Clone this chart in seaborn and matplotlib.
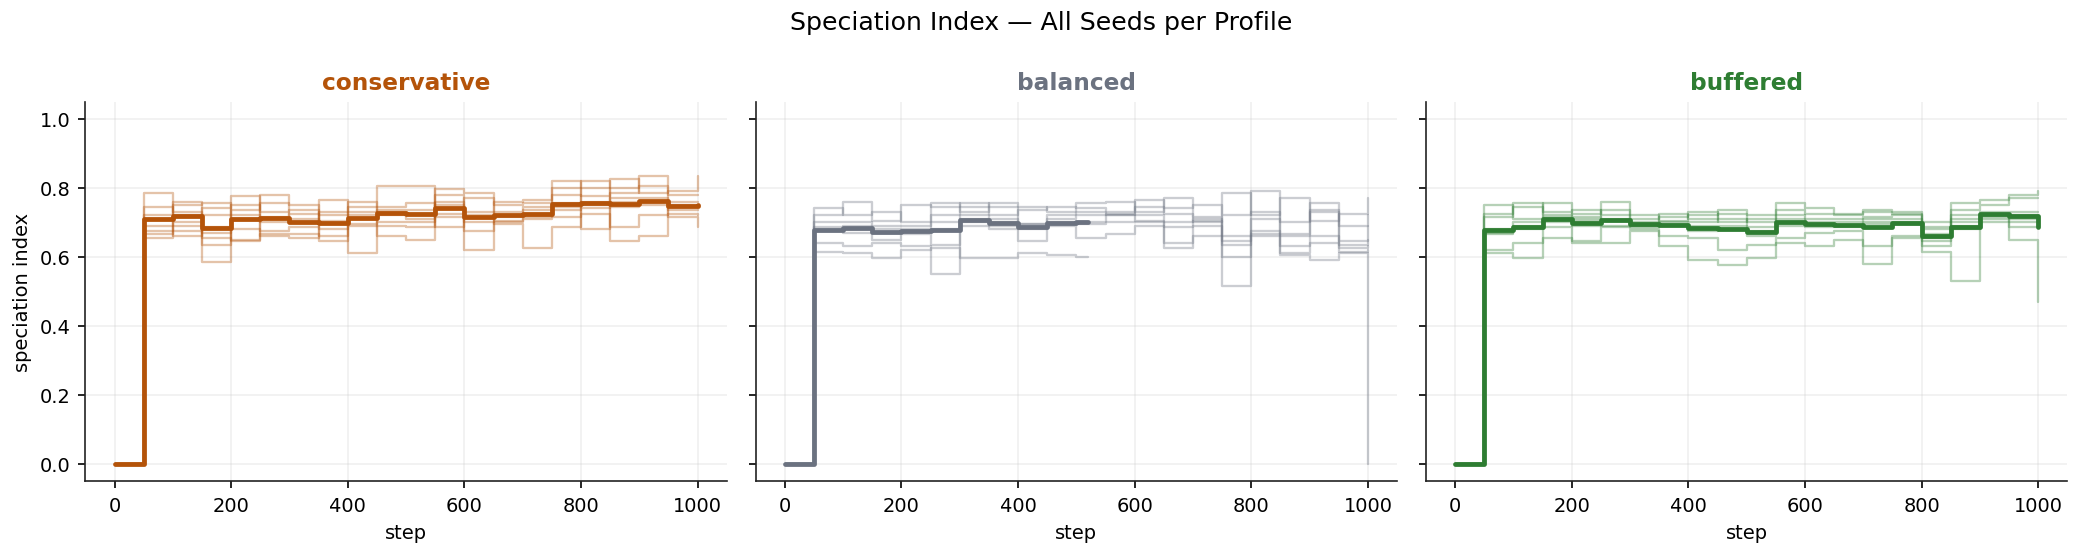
import numpy as np
import pandas as pd
import seaborn as sns
import matplotlib.pyplot as plt

# kroki: 0, 50, ..., 950 i ostatni punkt 1000
steps = list(range(0, 1001, 50))

profiles = ["conservative", "balanced", "buffered"]
colors = {"conservative": "#b45309", "balanced": "#6b7280", "buffered": "#2e7d32"}

# --- conservative (8 seedow) ---
cons_seeds = [
    [0, .785, .73, .585, .735, .78, .70, .765, .61, .805, .805, .715, .62, .76, .765, .80, .68, .825, .785, .79, .835],
    [0, .655, .75, .755, .65, .755, .75, .645, .76, .66, .65, .795, .785, .695, .625, .685, .82, .80, .835, .78, .78],
    [0, .745, .66, .74, .775, .66, .655, .73, .745, .745, .755, .685, .77, .75, .755, .82, .80, .645, .66, .76, .76],
    [0, .72, .76, .635, .75, .73, .735, .72, .73, .735, .735, .78, .73, .73, .745, .78, .775, .785, .805, .715, .685],
    [0, .71, .72, .72, .72, .715, .725, .705, .72, .73, .725, .76, .72, .72, .735, .755, .76, .77, .77, .75, .75],
    [0, .69, .70, .685, .71, .70, .71, .695, .71, .72, .71, .75, .715, .715, .725, .745, .75, .76, .76, .745, .745],
    [0, .675, .69, .67, .68, .675, .685, .68, .695, .70, .70, .74, .70, .705, .715, .735, .74, .745, .75, .735, .735],
    [0, .665, .675, .655, .645, .665, .665, .66, .69, .69, .685, .725, .675, .70, .71, .715, .725, .685, .72, .725, .72],
]
cons_mean = [0, .709, .718, .683, .709, .712, .702, .699, .711, .728, .723, .742, .716, .721, .723,
             .752, .755, .752, .763, .747, .75]

# --- balanced (7 pelnych seedow + 1 urwany na kroku 520) ---
bal_seeds = [
    [0, .74, .72, .73, .70, .755, .73, .755, .745, .73, .755, .76, .73, .77, .70, .785, .72, .77, .705, .725, .77],
    [0, .72, .76, .705, .75, .745, .755, .72, .735, .745, .74, .73, .765, .74, .75, .72, .79, .70, .755, .69, .72],
    [0, .70, .70, .69, .69, .72, .745, .745, .695, .72, .73, .72, .745, .725, .715, .66, .73, .665, .735, .645, .69],
    [0, .685, .69, .68, .68, .70, .72, .71, .695, .71, .72, .725, .72, .70, .71, .645, .71, .66, .73, .635, .65],
    [0, .68, .68, .67, .675, .68, .71, .70, .69, .70, .70, .72, .705, .685, .705, .635, .675, .63, .66, .625, .63],
    [0, .675, .67, .65, .665, .635, .70, .69, .68, .695, .695, .70, .70, .64, .69, .60, .665, .61, .64, .615, .62],
    [0, .64, .63, .64, .63, .55, .69, .68, .645, .69, .655, .665, .69, .625, .66, .515, .66, .605, .59, .61, 0.0],
]
bal_short_steps = [0, 50, 100, 150, 200, 250, 300, 350, 400, 450, 500, 520]
bal_short_seed = [0, .615, .61, .595, .62, .625, .595, .595, .61, .605, .60, .60]
bal_mean = [0, .679, .683, .672, .674, .677, .706, .699, .685, .699, .701, .701]

# --- buffered (8 seedow) ---
buf_seeds = [
    [0, .75, .71, .755, .705, .76, .70, .725, .71, .735, .72, .755, .74, .725, .735, .73, .70, .755, .765, .78, .79],
    [0, .725, .755, .73, .735, .72, .72, .705, .73, .70, .71, .735, .725, .72, .73, .725, .685, .735, .75, .77, .77],
    [0, .715, .745, .72, .725, .735, .71, .715, .72, .725, .70, .72, .71, .71, .715, .72, .68, .72, .73, .73, .73],
    [0, .68, .70, .715, .715, .71, .695, .70, .70, .71, .685, .71, .70, .70, .71, .71, .665, .71, .725, .72, .72],
    [0, .67, .69, .71, .71, .705, .69, .695, .69, .69, .675, .70, .695, .69, .70, .70, .655, .70, .72, .71, .71],
    [0, .665, .68, .70, .69, .69, .685, .69, .675, .68, .66, .69, .685, .685, .695, .695, .645, .69, .715, .70, .70],
    [0, .62, .64, .685, .645, .685, .68, .66, .655, .62, .635, .655, .67, .675, .63, .66, .63, .68, .71, .685, .685],
    [0, .61, .595, .655, .64, .64, .675, .63, .59, .575, .595, .64, .63, .65, .58, .655, .615, .53, .70, .65, .47],
]
buf_mean = [0, .679, .685, .709, .697, .706, .694, .692, .683, .68, .672, .701, .696, .692, .685, .699,
            .66, .687, .725, .718, .685]

# ramki danych w formacie dlugim
rows = []
for prof, seeds in [("conservative", cons_seeds), ("balanced", bal_seeds), ("buffered", buf_seeds)]:
    for i, s in enumerate(seeds):
        for st, v in zip(steps, s):
            rows.append((prof, i, st, v))
for st, v in zip(bal_short_steps, bal_short_seed):
    rows.append(("balanced", 99, st, v))
df = pd.DataFrame(rows, columns=["profile", "seed", "step", "value"])

means = {
    "conservative": pd.DataFrame({"step": steps, "value": cons_mean}),
    "balanced": pd.DataFrame({"step": bal_short_steps, "value": bal_mean}),
    "buffered": pd.DataFrame({"step": steps, "value": buf_mean}),
}

sns.set_style("ticks")
plt.rcParams.update({
    "axes.edgecolor": "#222222",
    "text.color": "black",
    "axes.labelcolor": "black",
    "xtick.color": "black",
    "ytick.color": "black",
})
fig, axes = plt.subplots(1, 3, figsize=(13.88, 3.693), dpi=150, sharey=True)

for ax, prof in zip(axes, profiles):
    c = colors[prof]
    sns.lineplot(data=df[df["profile"] == prof], x="step", y="value", units="seed",
                 estimator=None, color=c, alpha=0.35, lw=1.1, drawstyle="steps-post",
                 legend=False, ax=ax)
    sns.lineplot(data=means[prof], x="step", y="value", color=c, lw=2.3,
                 drawstyle="steps-post", legend=False, ax=ax)
    ax.set_title(prof, color=c, fontweight="bold", fontsize=11.2)
    ax.set_xlabel("step", fontsize=9.3)
    ax.set_ylabel("")
    ax.set_ylim(-0.05, 1.05)
    ax.set_yticks([0.0, 0.2, 0.4, 0.6, 0.8, 1.0])
    ax.tick_params(labelsize=9.3)
    ax.grid(True, alpha=0.3)
    sns.despine(ax=ax)

axes[0].set_ylabel("speciation index", fontsize=9.3)
fig.suptitle("Speciation Index — All Seeds per Profile", fontsize=12.1)
fig.subplots_adjust(left=0.041, right=0.993, top=0.815, bottom=0.13, wspace=0.045)
fig.savefig("out.png", dpi=150)
